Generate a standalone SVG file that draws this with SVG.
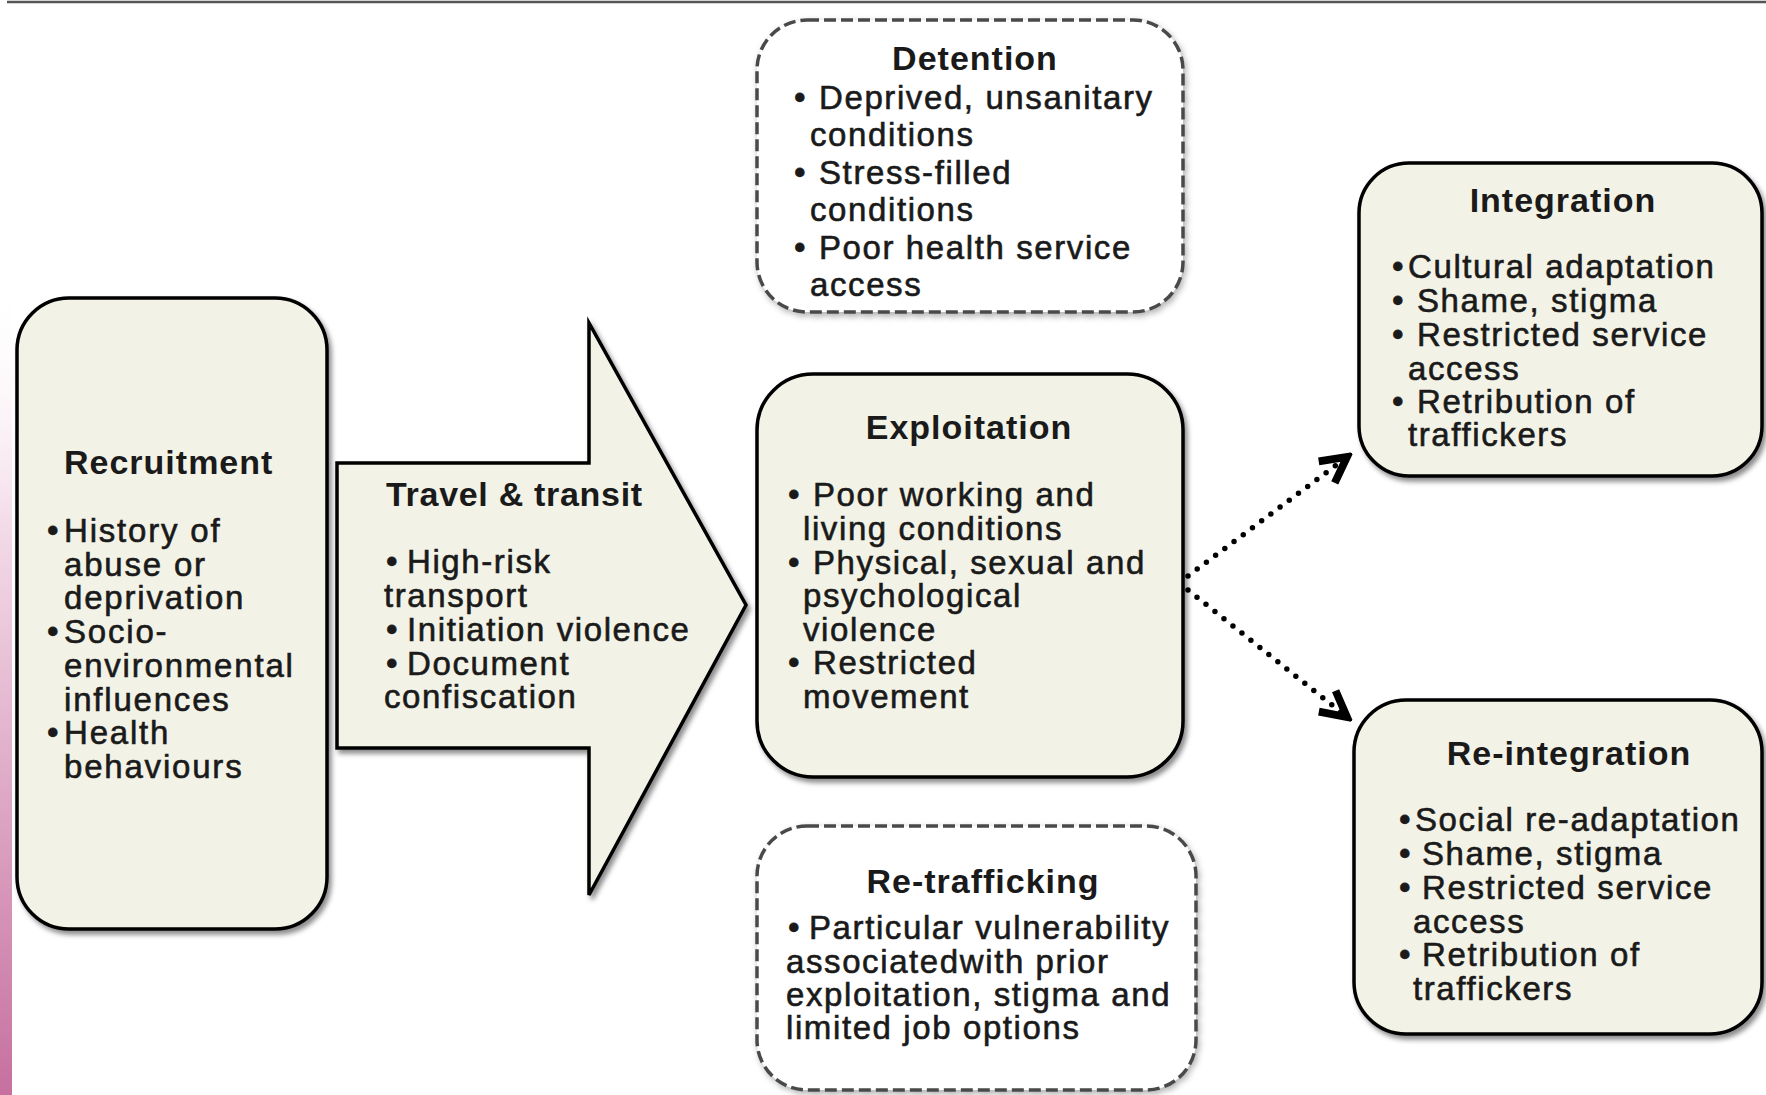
<svg xmlns="http://www.w3.org/2000/svg" width="1766" height="1095" viewBox="0 0 1766 1095">
<defs>
<linearGradient id="pink" x1="0" y1="0" x2="0" y2="1">
<stop offset="0" stop-color="#ffffff" stop-opacity="0"/>
<stop offset="0.3" stop-color="#f3dbe8"/>
<stop offset="1" stop-color="#c6709f"/>
</linearGradient>
<filter id="sh" x="-10%" y="-10%" width="125%" height="125%">
<feDropShadow dx="3" dy="4" stdDeviation="2.5" flood-color="#000" flood-opacity="0.45"/>
</filter>
<filter id="shd" x="-10%" y="-10%" width="125%" height="125%">
<feDropShadow dx="2" dy="3" stdDeviation="3" flood-color="#000" flood-opacity="0.3"/>
</filter>
<marker id="arr" viewBox="0 0 12 12" refX="10" refY="6" markerWidth="6.5" markerHeight="6.5" orient="auto" markerUnits="strokeWidth">
<path d="M1.5,1.5 L10,6 L1.5,10.5" fill="none" stroke="#000" stroke-width="2.6" stroke-linejoin="miter"/>
</marker>
<style>
.box{fill:#f2f2e6;stroke:#000;stroke-width:3.5;filter:url(#sh)}
.dbox{fill:#fff;stroke:#4a4a4a;stroke-width:3.5;stroke-dasharray:12 5;filter:url(#shd)}
.t{font-family:"Liberation Sans",Arial,sans-serif;font-weight:bold;font-size:34px;fill:#1a1a1a;letter-spacing:1px}
.b{font-family:"Liberation Sans",Arial,sans-serif;font-size:33px;fill:#1a1a1a;stroke:#1a1a1a;stroke-width:0.6px;letter-spacing:1.6px}
.c{fill:none;stroke:#000;stroke-width:5.5;stroke-linecap:round;stroke-dasharray:0 11.5}
</style>
</defs>
<rect x="0" y="0" width="1766" height="1095" fill="#fff"/>
<rect x="0" y="280" width="12" height="815" fill="url(#pink)"/>
<line x1="7" y1="2" x2="1766" y2="2" stroke="#555" stroke-width="2.5"/>

<g id="recruitment">
<rect class="box" x="17" y="298" width="310" height="631" rx="52" ry="52"/>
<text class="t" x="64" y="474">Recruitment</text>
<text class="b" x="47" y="542" style="letter-spacing:1.8px">•<tspan x="64">History of</tspan></text>
<text class="b" x="64" y="576" style="letter-spacing:1.8px">abuse or</text>
<text class="b" x="64" y="609" style="letter-spacing:1.8px">deprivation</text>
<text class="b" x="47" y="643" style="letter-spacing:1.8px">•<tspan x="64">Socio-</tspan></text>
<text class="b" x="64" y="677" style="letter-spacing:1.8px">environmental</text>
<text class="b" x="64" y="711" style="letter-spacing:1.8px">influences</text>
<text class="b" x="47" y="744" style="letter-spacing:1.8px">•<tspan x="64">Health</tspan></text>
<text class="b" x="64" y="778" style="letter-spacing:1.8px">behaviours</text>
</g>

<g id="travel">
<path class="box" d="M337,463 L589,463 L589,323 L746,605 L589,895 L589,748 L337,748 Z"/>
<text class="t" x="386" y="506" style="letter-spacing:0.7px">Travel &amp; transit</text>
<text class="b" x="386" y="573">•<tspan x="407">High-risk</tspan></text>
<text class="b" x="384" y="607">transport</text>
<text class="b" x="386" y="641">•<tspan x="407">Initiation violence</tspan></text>
<text class="b" x="386" y="675">•<tspan x="407">Document</tspan></text>
<text class="b" x="384" y="708">confiscation</text>
</g>

<g id="detention">
<rect class="dbox" x="757" y="20" width="426" height="292" rx="50" ry="50"/>
<text class="t" x="975" y="70" text-anchor="middle">Detention</text>
<text class="b" x="794" y="109">•<tspan x="819">Deprived, unsanitary</tspan></text>
<text class="b" x="810" y="146">conditions</text>
<text class="b" x="794" y="184">•<tspan x="819">Stress-filled</tspan></text>
<text class="b" x="810" y="221">conditions</text>
<text class="b" x="794" y="259">•<tspan x="819">Poor health service</tspan></text>
<text class="b" x="810" y="296">access</text>
</g>

<g id="exploitation">
<rect class="box" x="757" y="374" width="426" height="403" rx="56" ry="56"/>
<text class="t" x="969" y="439" text-anchor="middle">Exploitation</text>
<text class="b" x="788" y="506">•<tspan x="813">Poor working and</tspan></text>
<text class="b" x="803" y="540">living conditions</text>
<text class="b" x="788" y="574">•<tspan x="813">Physical, sexual and</tspan></text>
<text class="b" x="803" y="607">psychological</text>
<text class="b" x="803" y="641">violence</text>
<text class="b" x="788" y="674">•<tspan x="813">Restricted</tspan></text>
<text class="b" x="803" y="708">movement</text>
</g>

<g id="retrafficking">
<rect class="dbox" x="757" y="826" width="439" height="264" rx="50" ry="50"/>
<text class="t" x="983" y="893" text-anchor="middle">Re-trafficking</text>
<text class="b" x="788" y="939">•<tspan x="809">Particular vulnerability</tspan></text>
<text class="b" x="786" y="973">associatedwith prior</text>
<text class="b" x="786" y="1006">exploitation, stigma and</text>
<text class="b" x="786" y="1039">limited job options</text>
</g>

<g id="integration">
<rect class="box" x="1359" y="163" width="403" height="313" rx="50" ry="50"/>
<text class="t" x="1563" y="212" text-anchor="middle">Integration</text>
<text class="b" x="1392" y="278">•<tspan x="1408">Cultural adaptation</tspan></text>
<text class="b" x="1392" y="312">•<tspan x="1417">Shame, stigma</tspan></text>
<text class="b" x="1392" y="346">•<tspan x="1417">Restricted service</tspan></text>
<text class="b" x="1408" y="380">access</text>
<text class="b" x="1392" y="413">•<tspan x="1417">Retribution of</tspan></text>
<text class="b" x="1408" y="446">traffickers</text>
</g>

<g id="reintegration">
<rect class="box" x="1354" y="700" width="408" height="334" rx="52" ry="52"/>
<text class="t" x="1569" y="765" text-anchor="middle">Re-integration</text>
<text class="b" x="1399" y="831">•<tspan x="1415">Social re-adaptation</tspan></text>
<text class="b" x="1399" y="865">•<tspan x="1422">Shame, stigma</tspan></text>
<text class="b" x="1399" y="899">•<tspan x="1422">Restricted service</tspan></text>
<text class="b" x="1413" y="933">access</text>
<text class="b" x="1399" y="966">•<tspan x="1422">Retribution of</tspan></text>
<text class="b" x="1413" y="1000">traffickers</text>
</g>

<g id="connectors">
<path class="c" d="M1188,576 L1347,457" marker-end="url(#arr)"/>
<path class="c" d="M1188,590 L1347,717" marker-end="url(#arr)"/>
</g>
</svg>
